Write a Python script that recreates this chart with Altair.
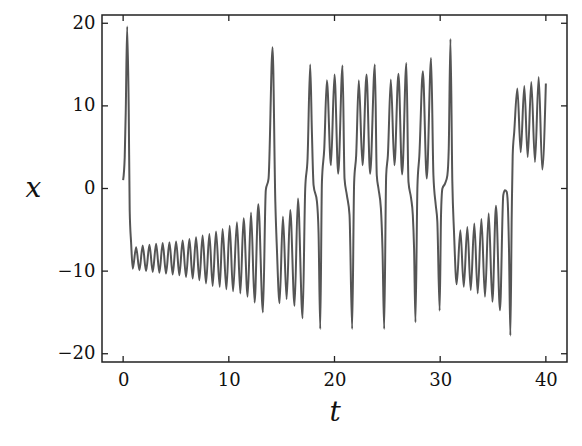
import altair as alt
import pandas as pd

# Values (extrema and shape points of the trajectory)
t_vals = [0.00, 0.15, 0.25, 0.38, 0.53, 0.62, 0.76, 0.91, 1.23, 1.54, 1.85, 2.17, 2.49, 2.80,
          3.12, 3.43, 3.74, 4.06, 4.38, 4.69, 5.01, 5.32, 5.63, 5.95, 6.27, 6.58, 6.90, 7.21,
          7.52, 7.84, 8.16, 8.47, 8.79, 9.14, 9.41, 9.77, 10.08, 10.40, 10.77, 11.09, 11.40,
          11.78, 12.10, 12.44, 12.79, 13.23, 13.50, 13.76, 14.14, 14.40, 14.55, 14.80, 15.12,
          15.47, 15.81, 16.22, 16.54, 16.98, 17.23, 17.45, 17.70, 17.86, 18.02, 18.34, 18.49,
          18.65, 18.81, 19.03, 19.28, 19.66, 20.00, 20.35, 20.76, 20.95, 21.17, 21.42, 21.67,
          21.86, 22.05, 22.30, 22.65, 23.03, 23.37, 23.82, 24.00, 24.16, 24.39, 24.54, 24.70,
          24.89, 25.05, 25.33, 25.67, 26.05, 26.40, 26.80, 27.00, 27.25, 27.41, 27.53, 27.66,
          27.85, 28.03, 28.36, 28.73, 29.14, 29.36, 29.58, 29.73, 29.95, 30.08, 30.21, 30.46,
          30.68, 30.81, 30.97, 31.15, 31.31, 31.56, 31.91, 32.23, 32.57, 32.89, 33.23, 33.55,
          33.90, 34.24, 34.59, 34.94, 35.28, 35.66, 35.97, 36.13, 36.29, 36.39, 36.51, 36.64,
          36.77, 36.86, 37.01, 37.30, 37.62, 37.96, 38.28, 38.62, 38.97, 39.32, 39.66, 40.00]
x_vals = [1.0, 3.8, 9.5, 19.6, 9.5, -2.6, -6.7, -9.7, -7.1, -9.9, -6.9, -10.0, -6.8, -10.1,
          -6.7, -10.2, -6.6, -10.3, -6.5, -10.4, -6.4, -10.5, -6.3, -10.7, -6.1, -10.9, -5.9, -11.1,
          -5.7, -11.5, -5.5, -11.8, -5.2, -11.9, -4.9, -12.2, -4.5, -12.45, -4.1, -12.7, -3.6,
          -13.1, -2.9, -13.8, -1.9, -15.0, -0.2, 1.2, 17.1, -1.6, -7.3, -13.9, -3.4,
          -13.4, -2.6, -14.2, -1.2, -15.7, 0.0, 3.6, 15.0, 6.9, 0.4, -1.6, -5.3,
          -17.0, 0.8, 4.8, 13.1, 2.8, 13.8, 1.8, 14.9, 1.2, -0.8, -3.2, -17.0,
          0.8, 4.0, 13.1, 2.8, 13.8, 1.8, 15.0, 1.6, 0.0, -2.4, -7.3, -17.0,
          1.6, 4.0, 13.2, 2.8, 13.9, 1.7, 15.2, 0.8, -1.2, -3.2, -7.3, -16.2,
          0.4, 4.0, 14.2, 1.2, 15.8, 1.6, -2.0, -4.0, -14.8, -3.2, 0.0, 0.6,
          1.6, 4.8, 18.1, 0.8, -5.3, -11.6, -5.05, -11.9, -4.65, -12.3, -4.25, -12.7,
          -3.7, -13.1, -3.0, -13.7, -2.1, -14.75, -0.8, -0.2, -0.4, -1.6, -7.3, -17.8,
          -3.2, 4.0, 6.9, 12.1, 4.4, 12.4, 3.8, 12.9, 3.2, 13.5, 2.3, 12.7]

x_ticks = [0, 10, 20, 30, 40]
y_ticks = [-20, -10, 0, 10, 20]

W, H = 465, 347
TL = 6
FONT = "DejaVu Serif"
FRAME = "#222222"

df = pd.DataFrame({"t": t_vals, "x": x_vals})
xt = pd.DataFrame({"t": x_ticks})
yt = pd.DataFrame({"x": y_ticks})

xscale = alt.Scale(domain=[-2, 42], nice=False, zero=False)
yscale = alt.Scale(domain=[-21, 21], nice=False, zero=False)

xaxis = alt.Axis(values=x_ticks, ticks=False, domain=False, grid=False,
                 labelFont=FONT, labelFontSize=18, labelColor="#111",
                 labelPadding=9, title="t", titleFont=FONT, titleFontStyle="italic",
                 titleFontWeight="normal", titleFontSize=28, titleColor="#111",
                 titlePadding=9)
yaxis = alt.Axis(values=y_ticks, ticks=False, domain=False, grid=False,
                 labelFont=FONT, labelFontSize=18, labelColor="#111",
                 labelPadding=7, title="x", titleFont=FONT, titleFontStyle="italic",
                 titleFontWeight="normal", titleFontSize=28, titleColor="#111",
                 titlePadding=24, titleAngle=0, titleBaseline="middle")

line = alt.Chart(df).mark_line(color="#555555", strokeWidth=2, interpolate="monotone").encode(
    x=alt.X("t:Q", scale=xscale, axis=xaxis),
    y=alt.Y("x:Q", scale=yscale, axis=yaxis),
)

tick_style = dict(color=FRAME, strokeWidth=1.3)
bottom = alt.Chart(xt).mark_rule(**tick_style).encode(
    x=alt.X("t:Q", scale=xscale, axis=xaxis), y=alt.value(H), y2=alt.value(H - TL))
top = alt.Chart(xt).mark_rule(**tick_style).encode(
    x=alt.X("t:Q", scale=xscale, axis=xaxis), y=alt.value(0), y2=alt.value(TL))
left = alt.Chart(yt).mark_rule(**tick_style).encode(
    y=alt.Y("x:Q", scale=yscale, axis=yaxis), x=alt.value(0), x2=alt.value(TL))
right = alt.Chart(yt).mark_rule(**tick_style).encode(
    y=alt.Y("x:Q", scale=yscale, axis=yaxis), x=alt.value(W - TL), x2=alt.value(W))

chart = alt.layer(line, bottom, top, left, right).properties(
    width=W, height=H,
    background="white",
    autosize=alt.AutoSizeParams(type="none"),
    padding={"left": 94, "top": 7, "right": 7, "bottom": 76},
).configure_view(stroke=FRAME, strokeWidth=1.5)

chart.save("out.html", embed_options={"renderer": "svg", "actions": False})
